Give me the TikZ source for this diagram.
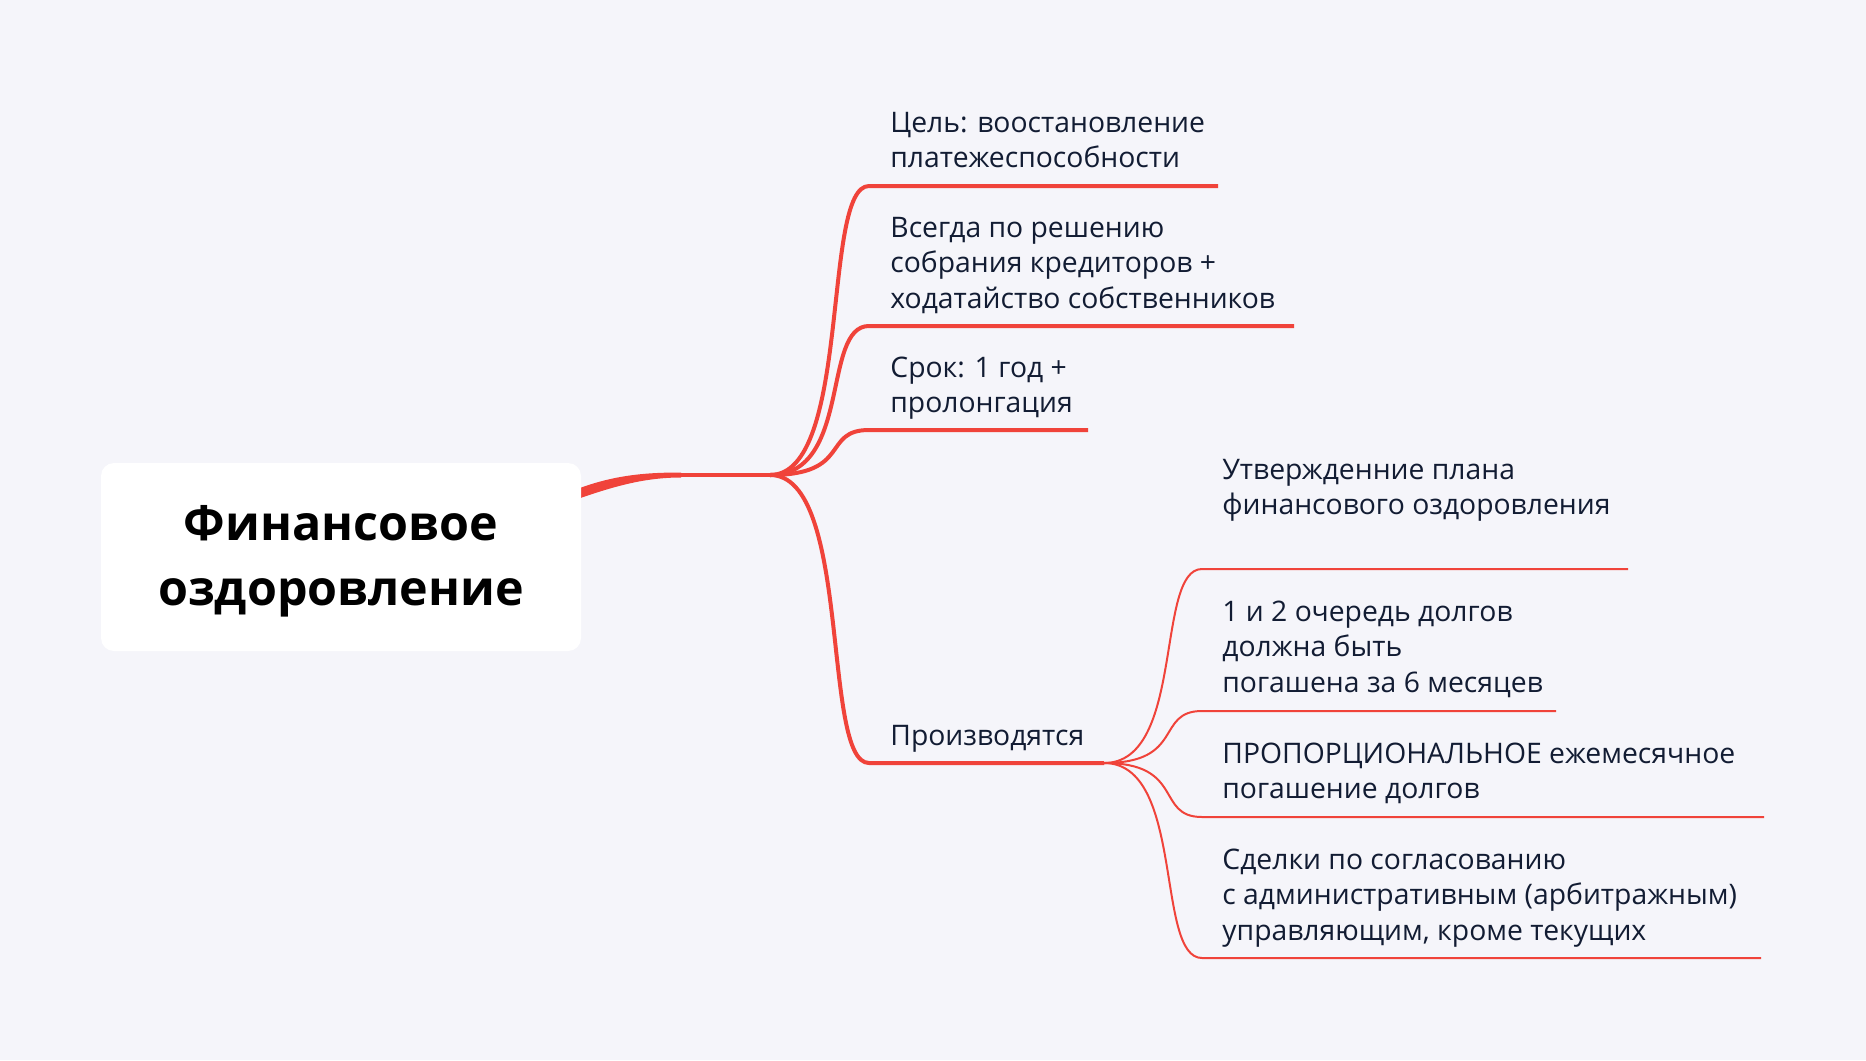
\documentclass[tikz,border=0pt]{standalone}
\usepackage{fontspec}
\setmainfont{Open Sans}
\usetikzlibrary{calc}
\definecolor{bgc}{HTML}{F5F5FA}
\definecolor{brRed}{HTML}{F0433A}
\definecolor{ink}{HTML}{121C33}
\tikzset{
  txt/.style={anchor=base west, inner sep=0pt, text=ink, font=\fontsize{14.15}{17.85}\selectfont},
  lvlone/.style={draw=brRed, line width=2pt, line join=round},
  lvltwo/.style={draw=brRed, line width=1pt, line join=round},
  branch/.style={to path={.. controls ($(\tikztostart)!0.83!(\tikztostart -| \tikztotarget)$) and ($(\tikztotarget)!0.48!(\tikztotarget -| \tikztostart)$) .. (\tikztotarget)}},
  rootbox/.style={fill=white, rounded corners=6.5pt, minimum width=240pt, minimum height=94pt, inner sep=0pt},
  roottext/.style={anchor=base, inner sep=0pt, text=black, font=\fontsize{24.2}{32.5}\selectfont\bfseries}
}
\begin{document}
\begin{tikzpicture}[x=0.5pt,y=-0.5pt]
\useasboundingbox (0,0) rectangle (1866,1060);
\fill[bgc] (0,0) rectangle (1866,1060);

% coordinates
\coordinate (T0) at (681,475);
\coordinate (J0) at (770,475);
\coordinate (S1) at (869,186); \coordinate (E1) at (1218,186);
\coordinate (S2) at (869,326); \coordinate (E2) at (1294,326);
\coordinate (S3) at (869,430); \coordinate (E3) at (1088,430);
\coordinate (S4) at (869,763); \coordinate (E4) at (1104,763);
\coordinate (SA) at (1202,569); \coordinate (EA) at (1628,569);
\coordinate (SB) at (1202,711); \coordinate (EB) at (1556,711);
\coordinate (SC) at (1202,817); \coordinate (EC) at (1764,817);
\coordinate (SD) at (1202,958); \coordinate (ED) at (1761,958);

% trunk (tapered)
\fill[brRed] (572,491) .. controls (612,475) and (645,472.5) .. (681,472.5)
  -- (681,477.5) .. controls (645,477.5) and (614,486) .. (572,501) -- cycle;

% root box
\node[rootbox] (root) at (341,557) {};
\node[roottext] (title) at (341,540) {\begin{tabular}[t]{@{}c@{}}Финансовое\\оздоровление\end{tabular}};

% level one
\draw[lvlone] (T0) -- (J0);
\draw[lvlone] (J0) to[branch] (S1) -- (E1);
\draw[lvlone] (J0) to[branch] (S2) -- (E2);
\draw[lvlone] (J0) to[branch] (S3) -- (E3);
\draw[lvlone] (J0) to[branch] (S4) -- (E4);

% level two
\draw[lvltwo] (E4) to[branch] (SA) -- (EA);
\draw[lvltwo] (E4) to[branch] (SB) -- (EB);
\draw[lvltwo] (E4) to[branch] (SC) -- (EC);
\draw[lvltwo] (E4) to[branch] (SD) -- (ED);

% texts
\node[txt] (t1) at (890,132) {\begin{tabular}[t]{@{}l@{}}Цель: воостановление\\платежеспособности\end{tabular}};
\node[txt] (t2) at (890,237) {\begin{tabular}[t]{@{}l@{}}Всегда по решению\\собрания кредиторов +\\ходатайство собственников\end{tabular}};
\node[txt] (t3) at (890,377) {\begin{tabular}[t]{@{}l@{}}Срок: 1 год +\\пролонгация\end{tabular}};
\node[txt] (t4) at (890,745) {Производятся};
\node[txt] (ta) at (1222,479) {\begin{tabular}[t]{@{}l@{}}Утвержденние плана\\финансового оздоровления\end{tabular}};
\node[txt] (tb) at (1222,621) {\begin{tabular}[t]{@{}l@{}}1 и 2 очередь долгов\\должна быть\\погашена за 6 месяцев\end{tabular}};
\node[txt] (tc) at (1222,763) {\begin{tabular}[t]{@{}l@{}}ПРОПОРЦИОНАЛЬНОЕ ежемесячное\\погашение долгов\end{tabular}};
\node[txt] (td) at (1222,869) {\begin{tabular}[t]{@{}l@{}}Сделки по согласованию\\с административным (арбитражным)\\управляющим, кроме текущих\end{tabular}};
\end{tikzpicture}
\end{document}
